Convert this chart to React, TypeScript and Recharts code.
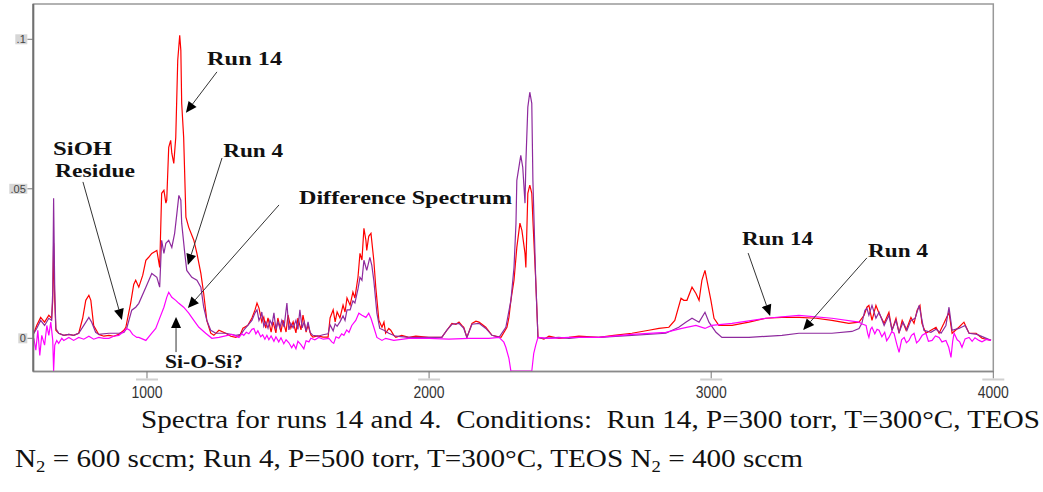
import React from 'react';
import { LineChart, Line, XAxis, YAxis, ReferenceLine, ReferenceDot, ReferenceArea } from 'recharts';

// wavenumber (cm-1), absorbance
const run14: [number, number][] = [
  [599, 0.0017], [609, 0.0043], [623, 0.007], [637, 0.0054], [652, 0.0077], [662, 0.0067], [666, 0.0127], [669, 0.0318], [673, 0.0127], [677, 0.0027],
  [687, 0.0017], [705, 0.001], [723, 0.0013], [740, 0.001], [758, 0.0017], [772, 0.0067], [783, 0.0127], [794, 0.0144], [801, 0.0127], [811, 0.0043],
  [829, 0.0013], [847, 0.0007], [865, 0.001], [882, 0.0007], [900, 0.0013], [918, 0.0027], [925, 0.0037], [942, 0.0117], [953, 0.018], [960, 0.0194],
  [971, 0.0171], [985, 0.0211], [996, 0.0261], [1006, 0.0271], [1017, 0.0284], [1035, 0.0294], [1045, 0.0237], [1052, 0.0485], [1060, 0.0495], [1067, 0.0452],
  [1070, 0.0462], [1077, 0.0639], [1084, 0.0662], [1088, 0.0619], [1095, 0.0585], [1102, 0.0672], [1109, 0.093], [1116, 0.1013], [1120, 0.0963], [1123, 0.0786],
  [1130, 0.0672], [1138, 0.0405], [1148, 0.0371], [1166, 0.0328], [1177, 0.0284], [1191, 0.0217], [1201, 0.015], [1212, 0.006], [1226, 0.0017], [1237, 0.001],
  [1255, 0.0027], [1279, 0.0017], [1297, 0.0007], [1315, 0.0003], [1330, 0.0011], [1340, 0.0034], [1358, 0.0044], [1372, 0.0068], [1383, 0.0095], [1390, 0.0118],
  [1397, 0.0101], [1407, 0.0055], [1414, 0.0071], [1421, 0.0034], [1429, 0.0068], [1440, 0.0021], [1447, 0.0055], [1457, 0.0018], [1464, 0.0068], [1475, 0.0021],
  [1482, 0.0061], [1493, 0.0021], [1500, 0.0078], [1510, 0.0034], [1518, 0.0055], [1528, 0.0018], [1535, 0.0068], [1546, 0.0028], [1553, 0.0078], [1564, 0.0021],
  [1571, 0.0044], [1581, 0.0011], [1588, 0.0004], [1606, 0.0008], [1624, 0.0004], [1642, 0.0004], [1649, 0.0068], [1660, 0.0095], [1667, 0.0055], [1674, 0.0088],
  [1684, 0.0068], [1695, 0.0111], [1702, 0.0088], [1709, 0.0135], [1720, 0.0111], [1730, 0.0155], [1737, 0.0135], [1748, 0.0205], [1755, 0.0284], [1762, 0.0262],
  [1769, 0.0368], [1776, 0.0328], [1779, 0.0294], [1786, 0.0341], [1794, 0.0351], [1804, 0.0261], [1811, 0.0171], [1822, 0.006], [1833, 0.0037], [1840, 0.0054],
  [1846, 0.0017], [1857, 0.0033], [1864, 0.0027], [1875, 0.001], [1882, 0.0003], [1903, 0.001], [1928, 0.0003], [1953, 0.0007], [1999, 0.0003], [2045, 0.0003],
  [2063, 0.0027], [2081, 0.005], [2095, 0.0047], [2106, 0.0054], [2116, 0.0043], [2123, 0.0037], [2134, 0.0003], [2152, 0.005], [2166, 0.0057], [2177, 0.0054],
  [2201, 0.0037], [2223, 0.001], [2255, 0.0003], [2276, 0.0037], [2283, 0.007], [2290, 0.0127], [2301, 0.0194], [2311, 0.0304], [2322, 0.0385], [2329, 0.0361],
  [2340, 0.0284], [2343, 0.0237], [2350, 0.0485], [2357, 0.0512], [2364, 0.0485], [2368, 0.0395], [2378, 0.0194], [2386, 0.0003], [2407, -0.0003], [2425, 0.0007],
  [2460, 0.0], [2496, 0.0003], [2531, 0.0007], [2602, 0.0003], [2655, 0.001], [2719, 0.0017], [2779, 0.0027], [2815, 0.0033], [2850, 0.0037], [2871, 0.006],
  [2893, 0.0134], [2903, 0.0127], [2914, 0.0127], [2932, 0.0171], [2946, 0.015], [2957, 0.0127], [2967, 0.0194], [2978, 0.0227], [2985, 0.0194], [2999, 0.0127],
  [3010, 0.0067], [3027, 0.0043], [3074, 0.0043], [3134, 0.0054], [3194, 0.0067], [3251, 0.007], [3311, 0.007], [3372, 0.0067], [3428, 0.006], [3488, 0.005],
  [3524, 0.0054], [3542, 0.0077], [3552, 0.0104], [3559, 0.011], [3570, 0.006], [3584, 0.011], [3595, 0.0084], [3613, 0.005], [3630, 0.0087], [3641, 0.0027],
  [3655, 0.0067], [3666, 0.0017], [3677, 0.006], [3691, 0.0027], [3708, 0.007], [3719, 0.005], [3730, 0.0094], [3740, 0.011], [3747, 0.005], [3761, 0.0017],
  [3779, 0.0027], [3797, 0.0037], [3808, 0.0017], [3825, 0.005], [3843, 0.0087], [3854, 0.0017], [3878, 0.0037], [3896, 0.0054], [3914, 0.0017], [3939, 0.0017],
  [3960, 0.0], [3992, -0.0007],
];

const run4: [number, number][] = [
  [599, 0.0017], [609, 0.0033], [623, 0.006], [637, 0.0043], [652, 0.0067], [662, 0.006], [666, 0.016], [669, 0.0468], [673, 0.016], [677, 0.0033],
  [687, 0.0017], [705, 0.001], [723, 0.0013], [740, 0.001], [758, 0.0017], [776, 0.0043], [794, 0.007], [804, 0.0054], [818, 0.002], [829, 0.0013],
  [865, 0.0017], [900, 0.0017], [918, 0.002], [928, 0.0033], [946, 0.0094], [960, 0.0104], [971, 0.0117], [996, 0.0171], [1017, 0.0217], [1035, 0.0204],
  [1045, 0.0171], [1052, 0.0328], [1060, 0.0284], [1067, 0.0318], [1077, 0.0328], [1088, 0.0304], [1098, 0.0351], [1106, 0.0418], [1113, 0.0478], [1120, 0.0462],
  [1123, 0.0385], [1134, 0.0284], [1141, 0.0227], [1159, 0.0204], [1177, 0.0194], [1191, 0.0171], [1201, 0.0104], [1212, 0.006], [1226, 0.0027], [1244, 0.0017],
  [1279, 0.0017], [1315, 0.001], [1333, 0.0013], [1343, 0.0027], [1358, 0.0044], [1372, 0.006], [1383, 0.0085], [1390, 0.0095], [1397, 0.006], [1404, 0.0075],
  [1407, 0.0088], [1414, 0.004], [1421, 0.0055], [1429, 0.0034], [1436, 0.006], [1443, 0.0045], [1450, 0.0085], [1457, 0.003], [1464, 0.0055], [1471, 0.0035],
  [1478, 0.006], [1486, 0.0038], [1496, 0.0118], [1503, 0.0028], [1510, 0.005], [1518, 0.0035], [1528, 0.006], [1535, 0.003], [1542, 0.0095], [1550, 0.0035],
  [1557, 0.0055], [1564, 0.0025], [1571, 0.0055], [1578, 0.002], [1588, 0.001], [1606, 0.0007], [1624, 0.0012], [1642, 0.0015], [1649, 0.0045], [1660, 0.0025],
  [1667, 0.0048], [1674, 0.004], [1684, 0.0055], [1695, 0.0075], [1702, 0.006], [1709, 0.0095], [1720, 0.0095], [1730, 0.0125], [1737, 0.0118], [1748, 0.0165],
  [1755, 0.0204], [1762, 0.0194], [1769, 0.0261], [1779, 0.0227], [1790, 0.0271], [1797, 0.0244], [1804, 0.0194], [1815, 0.0084], [1825, 0.0033], [1840, 0.0027],
  [1857, 0.0017], [1882, 0.0007], [1928, 0.0003], [1999, 0.0003], [2045, 0.0003], [2063, 0.0027], [2081, 0.0047], [2106, 0.005], [2123, 0.0033], [2134, 0.0003],
  [2152, 0.0047], [2177, 0.005], [2201, 0.0033], [2223, 0.001], [2248, 0.0003], [2272, 0.0037], [2290, 0.0127], [2301, 0.0237], [2308, 0.0385], [2311, 0.0528],
  [2325, 0.0612], [2332, 0.0572], [2340, 0.0452], [2343, 0.0585], [2350, 0.0773], [2357, 0.0823], [2364, 0.0786], [2368, 0.0528], [2378, 0.0194], [2386, 0.0003],
  [2407, 0.0], [2460, 0.0003], [2496, 0.0], [2531, 0.0003], [2602, 0.0003], [2719, 0.001], [2839, 0.0017], [2885, 0.0037], [2910, 0.0054], [2932, 0.0067],
  [2957, 0.0054], [2978, 0.0087], [2992, 0.0054], [3017, 0.002], [3038, 0.0003], [3134, 0.0003], [3251, 0.001], [3311, 0.0017], [3428, 0.0017], [3499, 0.0023],
  [3524, 0.0033], [3534, 0.005], [3545, 0.0094], [3552, 0.01], [3559, 0.0077], [3570, 0.011], [3584, 0.0067], [3595, 0.0087], [3613, 0.0043], [3630, 0.0077],
  [3641, 0.0027], [3655, 0.006], [3666, 0.002], [3680, 0.0054], [3694, 0.0027], [3708, 0.006], [3723, 0.0067], [3737, 0.011], [3744, 0.0077], [3754, 0.0027],
  [3779, 0.002], [3797, 0.003], [3815, 0.0017], [3832, 0.0043], [3843, 0.0104], [3854, 0.0027], [3878, 0.0033], [3900, 0.0043], [3914, 0.0017], [3942, 0.0013],
  [3967, 0.0003], [3992, -0.0007],
];

const difference: [number, number][] = [
  [599, 0.0], [606, -0.004], [613, 0.0027], [620, -0.0057], [627, 0.001], [637, -0.0023], [645, 0.0043], [652, 0.001], [659, 0.0054], [666, -0.0007],
  [669, -0.011], [673, -0.0023], [680, -0.0007], [687, -0.0017], [698, 0.0], [705, -0.0007], [723, 0.0003], [740, -0.0007], [758, 0.0003], [776, -0.0003],
  [794, 0.0007], [811, -0.0003], [829, 0.0003], [847, 0.0], [865, 0.0], [882, 0.0007], [900, 0.001], [918, 0.0023], [928, 0.0033], [939, 0.0027],
  [949, 0.0013], [964, 0.0003], [971, 0.0003], [996, -0.0007], [1017, 0.0017], [1031, 0.0033], [1042, 0.006], [1060, 0.0104], [1070, 0.0137], [1077, 0.0154],
  [1088, 0.0137], [1102, 0.0127], [1113, 0.0117], [1130, 0.0104], [1148, 0.0084], [1166, 0.006], [1184, 0.0037], [1208, 0.0017], [1230, 0.0], [1255, 0.0003],
  [1301, 0.0013], [1326, 0.0003], [1336, 0.0015], [1343, 0.001], [1352, 0.002], [1361, 0.0015], [1372, 0.003], [1379, 0.0033], [1386, 0.0015], [1393, 0.0025],
  [1403, 0.0005], [1410, 0.0012], [1418, -0.0003], [1425, 0.001], [1432, -0.0005], [1440, 0.0008], [1450, -0.001], [1457, 0.0005], [1467, -0.0012], [1475, 0.0002],
  [1485, -0.0018], [1493, -0.0005], [1503, -0.0015], [1513, -0.0032], [1520, -0.002], [1528, -0.0035], [1535, -0.001], [1545, -0.002], [1556, -0.0035], [1564, -0.0008],
  [1574, -0.0012], [1581, 0.0], [1595, -0.0005], [1609, 0.0003], [1625, -0.0003], [1645, 0.0], [1655, -0.0012], [1662, -0.0017], [1670, 0.0005], [1680, 0.0],
  [1690, 0.0015], [1698, 0.001], [1708, 0.0028], [1716, 0.002], [1726, 0.0043], [1740, 0.006], [1751, 0.0084], [1762, 0.0077], [1776, 0.007], [1786, 0.0084],
  [1794, 0.0067], [1804, 0.0037], [1815, 0.0003], [1833, -0.0007], [1846, 0.0], [1875, -0.0007], [1928, 0.0], [1999, 0.0], [2070, -0.0003], [2141, 0.0],
  [2212, 0.0], [2248, 0.0003], [2265, -0.0013], [2272, -0.003], [2283, -0.0067], [2290, -0.011], [2364, -0.011], [2371, -0.005], [2378, -0.0023], [2386, 0.0003],
  [2425, 0.0], [2496, 0.0003], [2602, 0.0003], [2719, 0.0013], [2839, 0.002], [2896, 0.0033], [2946, 0.0043], [2978, 0.0033], [3002, 0.0043], [3074, 0.005],
  [3194, 0.0067], [3311, 0.0077], [3428, 0.0067], [3524, 0.0054], [3535, 0.0048], [3549, 0.0043], [3555, 0.0015], [3559, 0.0003], [3565, 0.003], [3570, 0.0037],
  [3580, 0.0015], [3588, 0.003], [3595, 0.0027], [3605, 0.0005], [3615, 0.002], [3622, -0.0008], [3630, 0.0003], [3640, 0.0022], [3648, 0.0017], [3658, -0.002],
  [3666, -0.0047], [3675, -0.0005], [3684, 0.0003], [3692, -0.0015], [3701, -0.0007], [3710, 0.001], [3719, 0.0017], [3728, -0.0015], [3737, -0.0007], [3748, 0.001],
  [3761, 0.0017], [3770, -0.001], [3783, -0.0007], [3795, 0.0008], [3808, 0.0003], [3818, -0.0012], [3832, -0.0007], [3842, -0.003], [3850, -0.0064], [3856, -0.001],
  [3861, 0.0017], [3872, -0.0005], [3881, -0.0012], [3889, -0.003], [3900, -0.0002], [3914, 0.0003], [3925, -0.001], [3935, 0.0002], [3949, -0.0007], [3960, -0.0012],
  [3975, -0.0004], [3992, -0.0007],
];

const xTicks = [1000, 2000, 3000, 4000];
const xTickLabels = ['1000', '2000', '3000', '4000'];
const yTicks = [0, 0.05, 0.1];
const yTickLabels = ['0', '.05', '.1'];

const X_DOMAIN: [number, number] = [597, 4000];
const Y_DOMAIN: [number, number] = [-0.0111, 0.1118];

// annotation texts: [label, wavenumber, absorbance, width]
const notes: [string, number, number, number][] = [
  ['Run 14', 1213, 0.0914, 75],
  ['Run 4', 1270, 0.0606, 60],
  ['Difference Spectrum', 1539, 0.0449, 213],
  ['SiOH', 667, 0.0613, 59],
  ['Residue', 674, 0.0539, 80],
  ['Si-O-Si?', 1064, -0.0099, 78],
  ['Run 14', 3109, 0.0312, 71],
  ['Run 4', 3556, 0.0272, 60],
];

// arrows: [fromWn, fromAbs, toWn, toAbs]
const arrows: [number, number, number, number][] = [
  [1248, 0.0891, 1138, 0.0754],
  [1266, 0.0603, 1145, 0.0245],
  [1468, 0.0446, 1145, 0.0101],
  [773, 0.0523, 911, 0.0061],
  [1103, -0.0046, 1103, 0.0071],
  [3131, 0.0285, 3209, 0.0075],
  [3552, 0.0269, 3326, 0.0028],
];

const toRows = (arr: [number, number][]) => arr.map(([w, a]) => ({ w, a }));

const ArrowShape = (p: any) => {
  const { x1, y1, x2, y2 } = p;
  const dx = x2 - x1;
  const dy = y2 - y1;
  const len = Math.sqrt(dx * dx + dy * dy) || 1;
  const ux = dx / len;
  const uy = dy / len;
  const hl = 11;
  const hw = 5;
  const bx = x2 - ux * hl;
  const by = y2 - uy * hl;
  const pts = `${x2},${y2} ${bx - uy * hw},${by + ux * hw} ${bx + uy * hw},${by - ux * hw}`;
  return (
    <g>
      <line x1={x1} y1={y1} x2={bx} y2={by} stroke="#333" strokeWidth={1} />
      <polygon points={pts} fill="#000" />
    </g>
  );
};

const YTick = (props: any) => {
  const { x, y, payload } = props;
  const i = yTicks.indexOf(payload.value);
  const label = i >= 0 ? yTickLabels[i] : '';
  let w = 3;
  for (const ch of label) w += ch === '.' ? 3 : 6;
  return (
    <g>
      <rect x={x - w} y={y - 5} width={w} height={10} fill="#d6d6d6" />
      <text x={x - 1.5} y={y + 4} textAnchor="end" fontSize={11} fontFamily="'Liberation Sans', Arial, sans-serif" fill="#444">
        {label}
      </text>
    </g>
  );
};

const XTick = (props: any) => {
  const { x, y, payload } = props;
  const i = xTicks.indexOf(payload.value);
  const label = i >= 0 ? xTickLabels[i] : '';
  return (
    <g>
      <rect x={x - 11} y={y} width={22} height={2} fill="#d0d0d0" />
      <text x={x} y={y + 19.5} textAnchor="middle" fontSize={16} textLength={31} lengthAdjust="spacingAndGlyphs"
        fontFamily="'Liberation Sans Narrow', 'Liberation Sans', Arial, sans-serif" fill="#333">
        {label}
      </text>
    </g>
  );
};

export default function App() {
  return (
    <div style={{ position: 'absolute', left: 0, top: 0, width: 1043, height: 492, background: '#fff' }}>
      <LineChart width={1043} height={492} margin={{ top: 4, right: 49.7, left: 0, bottom: 90.5 }}>
        <XAxis
          dataKey="w"
          type="number"
          domain={X_DOMAIN}
          ticks={xTicks}
          allowDataOverflow
          height={30}
          tickSize={7}
          tickMargin={0}
          axisLine={{ stroke: '#8a8a8a', strokeWidth: 1.5 }}
          tickLine={{ stroke: '#777' }}
          tick={<XTick />}
        />
        <YAxis
          dataKey="a"
          type="number"
          domain={Y_DOMAIN}
          ticks={yTicks}
          allowDataOverflow
          width={33.3}
          tickSize={6}
          tickMargin={0}
          axisLine={{ stroke: '#707070', strokeWidth: 2 }}
          tickLine={{ stroke: '#777' }}
          tick={<YTick />}
        />
        <ReferenceArea x1={X_DOMAIN[0]} x2={X_DOMAIN[1]} y1={Y_DOMAIN[0]} y2={Y_DOMAIN[1]} fill="none" fillOpacity={0} stroke="#999" strokeWidth={1.5} ifOverflow="visible" />
        <Line data={toRows(run14)} dataKey="a" stroke="#ff0000" strokeWidth={1.2} dot={false} isAnimationActive={false} />
        <Line data={toRows(run4)} dataKey="a" stroke="#8e2a9e" strokeWidth={1.2} dot={false} isAnimationActive={false} />
        <Line data={toRows(difference)} dataKey="a" stroke="#ff00ff" strokeWidth={1.2} dot={false} isAnimationActive={false} />
        {arrows.map((a, i) => (
          <ReferenceLine key={'ar' + i} segment={[{ x: a[0], y: a[1] }, { x: a[2], y: a[3] }]} ifOverflow="visible" shape={ArrowShape} />
        ))}
        {notes.map((n, i) => (
          <ReferenceDot
            key={'nt' + i}
            x={n[1]}
            y={n[2]}
            r={0}
            ifOverflow="visible"
            shape={(p: any) => (
              <text x={p.cx} y={p.cy} fontSize={19} fontWeight="bold" fontFamily="'Liberation Serif', 'Times New Roman', serif"
                textLength={n[3]} lengthAdjust="spacingAndGlyphs" fill="#111">
                {n[0]}
              </text>
            )}
          />
        ))}
      </LineChart>
      <svg width={1043} height={492} style={{ position: 'absolute', left: 0, top: 0, pointerEvents: 'none' }}>
        <text x={141} y={428} fontSize={25} fontFamily="'Liberation Serif', 'Times New Roman', serif" fill="#111"
          textLength={899} lengthAdjust="spacingAndGlyphs" style={{ whiteSpace: 'pre' }}>
          {'Spectra for runs 14 and 4.  Conditions:  Run 14, P=300 torr, T=300°C, TEOS'}
        </text>
        <text x={15} y={467} fontSize={25} fontFamily="'Liberation Serif', 'Times New Roman', serif" fill="#111"
          textLength={788} lengthAdjust="spacingAndGlyphs" style={{ whiteSpace: 'pre' }}>
          <tspan>N</tspan>
          <tspan fontSize={16} dy={5}>2</tspan>
          <tspan dy={-5}>{' = 600 sccm; Run 4, P=500 torr, T=300°C, TEOS N'}</tspan>
          <tspan fontSize={16} dy={5}>2</tspan>
          <tspan dy={-5}>{' = 400 sccm'}</tspan>
        </text>
      </svg>
    </div>
  );
}
